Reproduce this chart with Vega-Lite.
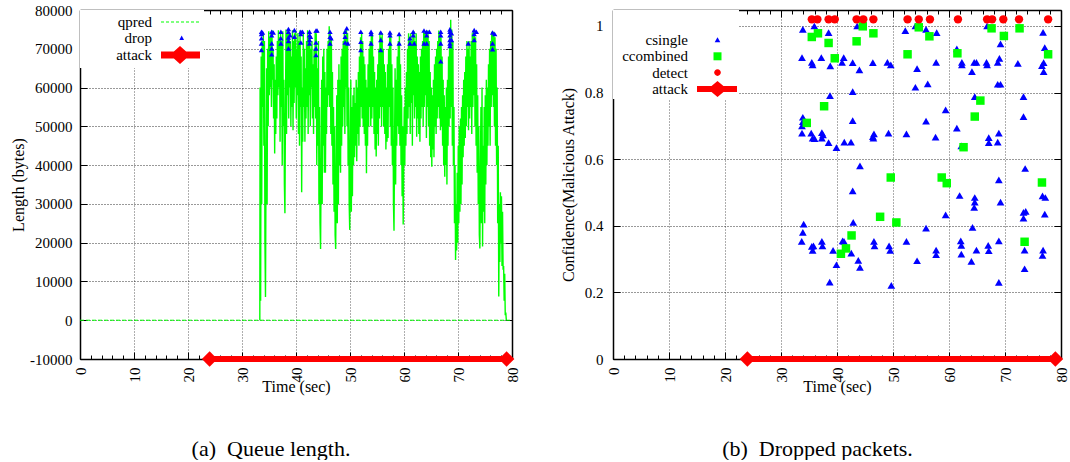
{
  "$schema": "https://vega.github.io/schema/vega-lite/v6.json",
  "background": "white",
  "padding": {"left": 10, "top": 3, "right": 0, "bottom": 0},
  "spacing": 40,
  "resolve": {"scale": {"color": "independent", "shape": "independent"}, "legend": {"color": "independent", "shape": "independent"}},
  "config": {
    "view": {"stroke": null},
    "font": "Liberation Serif",
    "axis": {
      "labelFont": "Liberation Serif", "labelFontSize": 15, "labelColor": "black",
      "titleFont": "Liberation Serif", "titleFontSize": 16, "titleFontWeight": "normal", "titleColor": "black",
      "gridColor": "#000000", "gridDash": [1, 2], "gridOpacity": 0.8, "gridWidth": 1,
      "tickColor": "black", "tickWidth": 1, "domainColor": "black", "domainWidth": 1.5, "zindex": 1
    },
    "legend": {"labelFont": "Liberation Serif", "labelFontSize": 15, "labelColor": "black", "titleFont": "Liberation Serif"},
    "title": {"font": "Liberation Serif", "fontWeight": "normal", "color": "black"}
  },
  "datasets": {
    "q": [
      {"t":0,"q":0},{"t":33.3,"q":0},{"t":33.35,"q":60000},{"t":33.45,"q":5000},{"t":33.55,"q":68000},{"t":33.65,"q":30000},{"t":33.75,"q":72000},{"t":33.85,"q":55000},{"t":33.95,"q":74000},{"t":34.05,"q":45000},{"t":34.15,"q":72000},{"t":34.25,"q":20000},{"t":34.35,"q":6000},{"t":34.45,"q":40000},{"t":34.55,"q":65000},{"t":34.65,"q":30000},{"t":34.75,"q":70000},{"t":34.85,"q":50000},{"t":34.95,"q":74500},
      {"t":35.05,"q":58000},{"t":35.15,"q":73000},{"t":35.25,"q":60000},{"t":35.35,"q":74000},{"t":35.45,"q":55000},{"t":35.55,"q":74800},{"t":35.65,"q":62000},{"t":35.75,"q":70000},{"t":35.85,"q":52000},{"t":35.95,"q":66000},
      {"t":36.05,"q":43000},{"t":36.15,"q":62000},{"t":36.25,"q":48000},{"t":36.35,"q":68000},{"t":36.45,"q":52000},{"t":36.55,"q":72000},{"t":36.65,"q":58000},{"t":36.75,"q":74800},{"t":36.85,"q":60000},{"t":36.95,"q":73000},
      {"t":37.05,"q":46000},{"t":37.15,"q":74000},{"t":37.25,"q":55000},{"t":37.35,"q":72000},{"t":37.45,"q":40000},{"t":37.55,"q":74500},{"t":37.65,"q":50000},{"t":37.75,"q":62000},{"t":37.85,"q":35000},{"t":37.95,"q":27600},
      {"t":38.05,"q":55000},{"t":38.15,"q":75000},{"t":38.25,"q":48000},{"t":38.35,"q":74000},{"t":38.45,"q":58000},{"t":38.55,"q":75000},{"t":38.65,"q":52000},{"t":38.75,"q":74000},{"t":38.85,"q":60000},{"t":38.95,"q":72000},
      {"t":39.05,"q":50000},{"t":39.15,"q":68000},{"t":39.25,"q":55000},{"t":39.35,"q":74800},{"t":39.45,"q":49000},{"t":39.55,"q":72000},{"t":39.65,"q":56000},{"t":39.75,"q":74000},{"t":39.85,"q":60000},{"t":39.95,"q":74800},
      {"t":40.05,"q":52000},{"t":40.15,"q":70000},{"t":40.25,"q":58000},{"t":40.35,"q":74000},{"t":40.45,"q":48000},{"t":40.55,"q":72000},{"t":40.65,"q":45000},{"t":40.75,"q":74800},{"t":40.85,"q":55000},{"t":40.95,"q":68000},
      {"t":41.05,"q":33000},{"t":41.15,"q":60000},{"t":41.25,"q":46000},{"t":41.35,"q":74000},{"t":41.45,"q":55000},{"t":41.55,"q":70000},{"t":41.65,"q":46000},{"t":41.75,"q":65000},{"t":41.85,"q":52000},{"t":41.95,"q":72000},
      {"t":42.05,"q":55000},{"t":42.15,"q":74800},{"t":42.25,"q":48000},{"t":42.35,"q":73000},{"t":42.45,"q":58000},{"t":42.55,"q":74000},{"t":42.65,"q":50000},{"t":42.75,"q":70000},{"t":42.85,"q":60000},{"t":42.95,"q":72000},
      {"t":43.05,"q":52000},{"t":43.15,"q":66000},{"t":43.25,"q":48000},{"t":43.35,"q":70000},{"t":43.45,"q":55000},{"t":43.55,"q":74500},{"t":43.65,"q":52000},{"t":43.75,"q":74000},{"t":43.85,"q":40000},{"t":43.95,"q":65000},
      {"t":44.05,"q":45000},{"t":44.15,"q":72000},{"t":44.25,"q":30000},{"t":44.35,"q":55000},{"t":44.45,"q":25000},{"t":44.55,"q":18400},{"t":44.65,"q":40000},{"t":44.75,"q":62000},{"t":44.85,"q":30000},{"t":44.95,"q":68000},
      {"t":45.05,"q":45000},{"t":45.15,"q":70000},{"t":45.25,"q":38000},{"t":45.35,"q":64000},{"t":45.45,"q":38000},{"t":45.55,"q":60000},{"t":45.65,"q":48000},{"t":45.75,"q":70000},{"t":45.85,"q":55000},{"t":45.95,"q":72000},
      {"t":46.05,"q":58000},{"t":46.15,"q":75800},{"t":46.25,"q":55000},{"t":46.35,"q":74000},{"t":46.45,"q":48000},{"t":46.55,"q":73000},{"t":46.65,"q":45000},{"t":46.75,"q":64000},{"t":46.85,"q":35000},{"t":46.95,"q":55000},
      {"t":47.05,"q":28000},{"t":47.15,"q":50000},{"t":47.25,"q":22000},{"t":47.35,"q":18400},{"t":47.45,"q":40000},{"t":47.55,"q":58000},{"t":47.65,"q":25000},{"t":47.75,"q":62000},{"t":47.85,"q":30000},{"t":47.95,"q":66000},
      {"t":48.05,"q":40000},{"t":48.15,"q":62000},{"t":48.25,"q":38000},{"t":48.35,"q":68000},{"t":48.45,"q":45000},{"t":48.55,"q":70000},{"t":48.65,"q":50000},{"t":48.75,"q":72000},{"t":48.85,"q":55000},{"t":48.95,"q":74500},
      {"t":49.05,"q":48000},{"t":49.15,"q":73000},{"t":49.25,"q":60000},{"t":49.35,"q":75000},{"t":49.45,"q":50000},{"t":49.55,"q":74000},{"t":49.65,"q":40000},{"t":49.75,"q":60000},{"t":49.85,"q":30000},{"t":49.95,"q":23300},
      {"t":50.05,"q":45000},{"t":50.15,"q":62000},{"t":50.25,"q":28000},{"t":50.35,"q":55000},{"t":50.45,"q":32000},{"t":50.55,"q":58000},{"t":50.65,"q":40000},{"t":50.75,"q":60000},{"t":50.85,"q":42000},{"t":50.95,"q":56000},
      {"t":51.05,"q":45000},{"t":51.15,"q":62000},{"t":51.25,"q":41000},{"t":51.35,"q":60000},{"t":51.45,"q":48000},{"t":51.55,"q":64000},{"t":51.65,"q":45000},{"t":51.75,"q":68000},{"t":51.85,"q":50000},{"t":51.95,"q":73000},
      {"t":52.05,"q":55000},{"t":52.15,"q":74400},{"t":52.25,"q":52000},{"t":52.35,"q":72000},{"t":52.45,"q":50000},{"t":52.55,"q":68000},{"t":52.65,"q":48000},{"t":52.75,"q":66000},{"t":52.85,"q":45000},{"t":52.95,"q":62000},
      {"t":53.05,"q":37900},{"t":53.15,"q":60000},{"t":53.25,"q":45000},{"t":53.35,"q":66000},{"t":53.45,"q":50000},{"t":53.55,"q":70000},{"t":53.65,"q":55000},{"t":53.75,"q":72000},{"t":53.85,"q":50000},{"t":53.95,"q":74400},
      {"t":54.05,"q":52000},{"t":54.15,"q":74000},{"t":54.25,"q":55000},{"t":54.35,"q":68000},{"t":54.45,"q":48000},{"t":54.55,"q":64000},{"t":54.65,"q":44000},{"t":54.75,"q":60000},{"t":54.85,"q":42200},{"t":54.95,"q":62000},
      {"t":55.05,"q":48000},{"t":55.15,"q":66000},{"t":55.25,"q":45000},{"t":55.35,"q":70000},{"t":55.45,"q":52000},{"t":55.55,"q":74400},{"t":55.65,"q":55000},{"t":55.75,"q":73000},{"t":55.85,"q":50000},{"t":55.95,"q":74000},
      {"t":56.05,"q":55000},{"t":56.15,"q":70000},{"t":56.25,"q":50000},{"t":56.35,"q":66000},{"t":56.45,"q":48000},{"t":56.55,"q":64000},{"t":56.65,"q":44000},{"t":56.75,"q":60000},{"t":56.85,"q":46000},{"t":56.95,"q":66000},
      {"t":57.05,"q":47000},{"t":57.15,"q":70000},{"t":57.25,"q":55000},{"t":57.35,"q":74400},{"t":57.45,"q":50000},{"t":57.55,"q":74000},{"t":57.65,"q":45000},{"t":57.75,"q":66000},{"t":57.85,"q":40000},{"t":57.95,"q":60000},
      {"t":58.05,"q":30000},{"t":58.15,"q":23100},{"t":58.25,"q":45000},{"t":58.35,"q":65000},{"t":58.45,"q":35000},{"t":58.55,"q":62000},{"t":58.65,"q":45000},{"t":58.75,"q":68000},{"t":58.85,"q":50000},{"t":58.95,"q":72000},
      {"t":59.05,"q":48000},{"t":59.15,"q":74000},{"t":59.25,"q":45000},{"t":59.35,"q":66000},{"t":59.45,"q":40000},{"t":59.55,"q":58000},{"t":59.65,"q":32000},{"t":59.75,"q":50000},{"t":59.85,"q":24700},{"t":59.95,"q":42000},
      {"t":60.05,"q":55000},{"t":60.15,"q":40000},{"t":60.25,"q":60000},{"t":60.35,"q":45000},{"t":60.45,"q":64000},{"t":60.55,"q":48000},{"t":60.65,"q":70000},{"t":60.75,"q":52000},{"t":60.85,"q":74000},{"t":60.95,"q":55000},
      {"t":61.05,"q":73000},{"t":61.15,"q":48000},{"t":61.25,"q":74000},{"t":61.35,"q":56000},{"t":61.45,"q":72000},{"t":61.55,"q":45000},{"t":61.65,"q":74000},{"t":61.75,"q":58000},{"t":61.85,"q":74500},{"t":61.95,"q":52000},
      {"t":62.05,"q":72000},{"t":62.15,"q":55000},{"t":62.25,"q":74000},{"t":62.35,"q":47300},{"t":62.45,"q":68000},{"t":62.55,"q":52000},{"t":62.65,"q":66000},{"t":62.75,"q":48000},{"t":62.85,"q":64000},{"t":62.95,"q":46000},
      {"t":63.05,"q":68000},{"t":63.15,"q":52000},{"t":63.25,"q":70000},{"t":63.35,"q":55000},{"t":63.45,"q":72000},{"t":63.55,"q":50000},{"t":63.65,"q":74700},{"t":63.75,"q":55000},{"t":63.85,"q":74000},{"t":63.95,"q":58000},
      {"t":64.05,"q":74500},{"t":64.15,"q":47000},{"t":64.25,"q":73000},{"t":64.35,"q":55000},{"t":64.45,"q":74700},{"t":64.55,"q":50000},{"t":64.65,"q":72000},{"t":64.75,"q":45000},{"t":64.85,"q":64000},{"t":64.95,"q":42000},
      {"t":65.05,"q":60000},{"t":65.15,"q":39600},{"t":65.25,"q":58000},{"t":65.35,"q":44000},{"t":65.45,"q":62000},{"t":65.55,"q":42000},{"t":65.65,"q":66000},{"t":65.75,"q":50000},{"t":65.85,"q":68000},{"t":65.95,"q":48000},
      {"t":66.05,"q":70000},{"t":66.15,"q":52000},{"t":66.25,"q":72000},{"t":66.35,"q":55000},{"t":66.45,"q":74700},{"t":66.55,"q":52000},{"t":66.65,"q":74000},{"t":66.75,"q":49000},{"t":66.85,"q":73000},{"t":66.95,"q":50000},
      {"t":67.05,"q":68000},{"t":67.15,"q":45000},{"t":67.25,"q":62000},{"t":67.35,"q":40000},{"t":67.45,"q":58000},{"t":67.55,"q":37000},{"t":67.65,"q":55000},{"t":67.75,"q":40000},{"t":67.85,"q":60000},{"t":67.95,"q":35000},
      {"t":68.05,"q":62000},{"t":68.15,"q":45000},{"t":68.25,"q":68000},{"t":68.35,"q":50000},{"t":68.45,"q":74000},{"t":68.55,"q":52000},{"t":68.65,"q":77500},{"t":68.75,"q":55000},{"t":68.85,"q":75000},{"t":68.95,"q":45000},
      {"t":69.05,"q":72000},{"t":69.15,"q":40000},{"t":69.25,"q":55000},{"t":69.35,"q":25000},{"t":69.45,"q":40000},{"t":69.55,"q":15500},{"t":69.65,"q":30000},{"t":69.75,"q":18000},{"t":69.85,"q":38000},{"t":69.95,"q":20000},
      {"t":70.05,"q":45000},{"t":70.15,"q":25000},{"t":70.25,"q":50000},{"t":70.35,"q":28000},{"t":70.45,"q":52000},{"t":70.55,"q":30000},{"t":70.65,"q":55000},{"t":70.75,"q":35000},{"t":70.85,"q":58000},{"t":70.95,"q":42000},
      {"t":71.05,"q":62000},{"t":71.15,"q":45000},{"t":71.25,"q":64000},{"t":71.35,"q":47000},{"t":71.45,"q":68000},{"t":71.55,"q":50000},{"t":71.65,"q":72000},{"t":71.75,"q":55000},{"t":71.85,"q":70000},{"t":71.95,"q":49000},
      {"t":72.05,"q":72000},{"t":72.15,"q":52000},{"t":72.25,"q":68000},{"t":72.35,"q":55000},{"t":72.45,"q":72000},{"t":72.55,"q":48000},{"t":72.65,"q":74000},{"t":72.75,"q":55000},{"t":72.85,"q":74800},{"t":72.95,"q":58000},
      {"t":73.05,"q":74000},{"t":73.15,"q":50000},{"t":73.25,"q":73000},{"t":73.35,"q":45000},{"t":73.45,"q":66000},{"t":73.55,"q":38000},{"t":73.65,"q":58000},{"t":73.75,"q":30000},{"t":73.85,"q":50000},{"t":73.95,"q":22000},
      {"t":74.05,"q":18500},{"t":74.15,"q":40000},{"t":74.25,"q":55000},{"t":74.35,"q":25000},{"t":74.45,"q":60000},{"t":74.55,"q":19000},{"t":74.65,"q":45000},{"t":74.75,"q":28000},{"t":74.85,"q":55000},{"t":74.95,"q":25000},
      {"t":75.05,"q":58000},{"t":75.15,"q":35000},{"t":75.25,"q":62000},{"t":75.35,"q":40000},{"t":75.45,"q":60000},{"t":75.55,"q":45000},{"t":75.65,"q":66000},{"t":75.75,"q":50000},{"t":75.85,"q":70000},{"t":75.95,"q":45000},
      {"t":76.05,"q":72000},{"t":76.15,"q":55000},{"t":76.25,"q":74400},{"t":76.35,"q":58000},{"t":76.45,"q":74000},{"t":76.55,"q":55000},{"t":76.65,"q":74400},{"t":76.75,"q":50000},{"t":76.85,"q":73000},{"t":76.95,"q":45000},
      {"t":77.05,"q":70000},{"t":77.15,"q":40000},{"t":77.25,"q":60000},{"t":77.35,"q":25000},{"t":77.45,"q":45000},{"t":77.55,"q":6100},{"t":77.65,"q":30000},{"t":77.75,"q":15000},{"t":77.85,"q":33000},{"t":77.95,"q":20000},
      {"t":78.05,"q":32000},{"t":78.15,"q":14000},{"t":78.25,"q":28000},{"t":78.35,"q":13000},{"t":78.45,"q":14000},{"t":78.55,"q":5000},{"t":78.65,"q":12000},{"t":78.75,"q":1300},{"t":78.85,"q":2000},{"t":78.95,"q":0},{"t":80,"q":0}
    ],
    "drop": [
      {"t":33.6,"q":74400},{"t":33.6,"q":73800},{"t":33.6,"q":72700},{"t":33.6,"q":71400},{"t":33.6,"q":69700},{"t":33.8,"q":74200},
      {"t":35.5,"q":74400},{"t":35.5,"q":73500},{"t":35.5,"q":71400},{"t":35.5,"q":70100},{"t":35.5,"q":68600},{"t":35.8,"q":74200},
      {"t":37.2,"q":74400},{"t":37.2,"q":72700},{"t":37.2,"q":71400},
      {"t":38.6,"q":75100},{"t":38.6,"q":74400},{"t":38.6,"q":72900},{"t":38.6,"q":72000},{"t":38.6,"q":70100},{"t":38.9,"q":73500},
      {"t":39.7,"q":74800},{"t":39.7,"q":73100},
      {"t":40.9,"q":74400},{"t":40.9,"q":73800},{"t":40.9,"q":71600},{"t":41.2,"q":74400},
      {"t":42.5,"q":74400},{"t":42.5,"q":73500},{"t":42.5,"q":72300},{"t":42.5,"q":71400},{"t":42.7,"q":73100},
      {"t":43.7,"q":74700},{"t":43.7,"q":71600},{"t":43.7,"q":70100},{"t":43.7,"q":68400},{"t":43.9,"q":74700},
      {"t":46.3,"q":74400},{"t":46.3,"q":73100},{"t":46.3,"q":71400},{"t":46.5,"q":72700},
      {"t":49.1,"q":74400},{"t":49.1,"q":73100},{"t":49.1,"q":71600},{"t":49.4,"q":75300},{"t":49.6,"q":71400},
      {"t":52.0,"q":74400},{"t":52.0,"q":71800},{"t":52.0,"q":69700},
      {"t":53.9,"q":74400},{"t":53.9,"q":73800},{"t":53.9,"q":71400},
      {"t":55.7,"q":74200},{"t":55.7,"q":72300},{"t":55.7,"q":69700},
      {"t":57.4,"q":74200},{"t":57.4,"q":73500},{"t":57.4,"q":71400},
      {"t":59.1,"q":73800},{"t":59.1,"q":71400},
      {"t":61.1,"q":72700},{"t":61.1,"q":71400},{"t":61.7,"q":74400},{"t":61.7,"q":73500},{"t":61.9,"q":71400},
      {"t":63.7,"q":74700},{"t":63.7,"q":71400},{"t":64.2,"q":74400},{"t":64.2,"q":73500},{"t":64.2,"q":71400},{"t":64.7,"q":74400},
      {"t":66.8,"q":74400},{"t":66.8,"q":73500},{"t":66.8,"q":71400},{"t":66.8,"q":66800},
      {"t":68.5,"q":75000},{"t":68.5,"q":74400},{"t":68.5,"q":73500},{"t":68.5,"q":72300},{"t":68.5,"q":71400},{"t":68.5,"q":70700},{"t":68.8,"q":74000},{"t":68.8,"q":72300},
      {"t":71.9,"q":71400},
      {"t":73.0,"q":74800},{"t":73.0,"q":73800},{"t":73.0,"q":72300},{"t":73.4,"q":74400},
      {"t":76.4,"q":74200},{"t":76.4,"q":71400},{"t":76.4,"q":69900},{"t":76.8,"q":73800}
    ],
    "atkA": [{"t":24,"q":-10000},{"t":79,"q":-10000}],
    "legA": [{"s":"qpred"},{"s":"drop"},{"s":"attack"}],
    "cs": [
      {"t":33.9,"c":0.99},{"t":35.95,"c":1.0},{"t":38.5,"c":0.98},{"t":43.6,"c":1.0},{"t":54.0,"c":1.0},{"t":52.2,"c":0.986},
      {"t":33.75,"c":0.905},{"t":35.5,"c":0.891},{"t":35.65,"c":0.883},{"t":37.2,"c":0.905},{"t":38.8,"c":0.88},{"t":41.2,"c":0.905},{"t":40.9,"c":0.891},{"t":42.8,"c":0.89},{"t":44.0,"c":0.868},{"t":46.4,"c":0.89},{"t":49.0,"c":0.891},{"t":49.6,"c":0.883},{"t":54.3,"c":0.872},{"t":54.0,"c":0.816},{"t":42.8,"c":0.803},{"t":38.75,"c":0.791},
      {"t":33.9,"c":0.726},{"t":33.9,"c":0.713},{"t":33.75,"c":0.7},{"t":42.8,"c":0.716},{"t":33.75,"c":0.678},{"t":35.4,"c":0.678},{"t":35.65,"c":0.663},{"t":36.0,"c":0.662},{"t":37.3,"c":0.68},{"t":37.3,"c":0.663},{"t":37.5,"c":0.673},{"t":38.5,"c":0.65},{"t":39.9,"c":0.635},{"t":41.3,"c":0.651},{"t":42.5,"c":0.651},{"t":46.6,"c":0.676},{"t":46.5,"c":0.663},{"t":46.4,"c":0.668},{"t":49.2,"c":0.678},{"t":52.4,"c":0.676},{"t":44.1,"c":0.58},
      {"t":42.8,"c":0.505},{"t":34.05,"c":0.405},{"t":33.9,"c":0.38},{"t":33.7,"c":0.353},{"t":35.5,"c":0.338},{"t":35.65,"c":0.326},{"t":35.8,"c":0.34},{"t":37.3,"c":0.353},{"t":37.4,"c":0.34},{"t":39.3,"c":0.326},{"t":41.0,"c":0.355},{"t":41.25,"c":0.353},{"t":42.55,"c":0.318},{"t":42.9,"c":0.41},{"t":39.9,"c":0.283},{"t":43.8,"c":0.296},{"t":44.1,"c":0.275},{"t":38.7,"c":0.231},{"t":46.6,"c":0.353},{"t":46.7,"c":0.34},{"t":49.3,"c":0.34},{"t":49.5,"c":0.326},{"t":49.7,"c":0.221},{"t":52.4,"c":0.353},{"t":54.3,"c":0.295},
      {"t":55.9,"c":0.99},{"t":57.8,"c":0.98},{"t":66.8,"c":1.0},{"t":57.7,"c":0.891},{"t":61.4,"c":0.931},{"t":62.3,"c":0.891},{"t":62.3,"c":0.883},{"t":64.1,"c":0.863},{"t":64.5,"c":0.891},{"t":64.9,"c":0.891},{"t":66.7,"c":0.891},{"t":66.8,"c":0.883},{"t":68.7,"c":0.891},{"t":69.0,"c":0.903},{"t":69.2,"c":0.946},{"t":68.7,"c":0.825},{"t":69.2,"c":0.825},{"t":72.3,"c":0.888},{"t":76.8,"c":0.981},{"t":77.1,"c":0.935},{"t":76.9,"c":0.89},{"t":76.6,"c":0.881},{"t":76.9,"c":0.863},
      {"t":56.2,"c":0.826},{"t":59.4,"c":0.748},{"t":55.9,"c":0.714},{"t":57.6,"c":0.666},{"t":61.4,"c":0.693},{"t":64.6,"c":0.788},{"t":73.3,"c":0.788},{"t":73.3,"c":0.728},{"t":67.1,"c":0.665},{"t":67.1,"c":0.65},{"t":68.9,"c":0.678},{"t":68.7,"c":0.651},{"t":62.2,"c":0.64},{"t":73.6,"c":0.572},{"t":68.9,"c":0.538},
      {"t":61.9,"c":0.491},{"t":64.6,"c":0.485},{"t":64.6,"c":0.471},{"t":64.5,"c":0.455},{"t":69.2,"c":0.471},{"t":59.4,"c":0.433},{"t":76.7,"c":0.49},{"t":77.2,"c":0.485},{"t":77.1,"c":0.435},{"t":73.3,"c":0.44},{"t":73.7,"c":0.443},{"t":73.3,"c":0.423},{"t":55.9,"c":0.393},{"t":64.2,"c":0.395},{"t":57.7,"c":0.327},{"t":57.7,"c":0.313},{"t":62.1,"c":0.355},{"t":62.2,"c":0.341},{"t":62.2,"c":0.315},{"t":64.9,"c":0.327},{"t":64.0,"c":0.293},{"t":67.0,"c":0.341},{"t":67.1,"c":0.325},{"t":68.9,"c":0.355},{"t":68.9,"c":0.23},{"t":73.5,"c":0.327},{"t":73.5,"c":0.271},{"t":76.8,"c":0.327},{"t":76.7,"c":0.311}
    ],
    "cc": [
      {"t":34.6,"c":0.709},{"t":35.5,"c":0.967},{"t":36.6,"c":0.978},{"t":37.7,"c":0.759},{"t":38.5,"c":0.949},{"t":39.6,"c":0.903},{"t":40.7,"c":0.316},{"t":41.6,"c":0.332},{"t":42.6,"c":0.371},{"t":43.5,"c":0.954},{"t":44.6,"c":0.999},{"t":46.5,"c":0.978},{"t":47.7,"c":0.427},{"t":49.6,"c":0.545},{"t":50.6,"c":0.41},
      {"t":52.6,"c":0.915},{"t":54.6,"c":0.996},{"t":56.5,"c":0.969},{"t":58.7,"c":0.545},{"t":59.6,"c":0.528},{"t":61.5,"c":0.918},{"t":62.6,"c":0.636},{"t":64.6,"c":0.728},{"t":65.6,"c":0.776},{"t":67.6,"c":0.993},{"t":69.8,"c":0.97},{"t":72.6,"c":0.993},{"t":73.5,"c":0.352},{"t":76.6,"c":0.53},{"t":77.7,"c":0.915}
    ],
    "det": [
      {"t":35.5,"c":1.02},{"t":36.5,"c":1.02},{"t":38.5,"c":1.02},{"t":39.6,"c":1.02},{"t":43.5,"c":1.02},{"t":44.7,"c":1.02},{"t":46.5,"c":1.02},{"t":52.6,"c":1.02},{"t":54.6,"c":1.02},{"t":56.6,"c":1.02},{"t":61.6,"c":1.02},{"t":66.8,"c":1.02},{"t":67.7,"c":1.02},{"t":69.7,"c":1.02},{"t":72.5,"c":1.02},{"t":77.7,"c":1.02}
    ],
    "atkB": [{"t":24,"c":0},{"t":79,"c":0}],
    "legB": [{"s":"csingle"},{"s":"ccombined"},{"s":"detect"},{"s":"attack"}]
  },
  "hconcat": [
    {
      "width": 432, "height": 349,
      "title": {"text": "(a)\u00a0\u00a0Queue length.", "orient": "bottom", "anchor": "middle", "frame": "bounds", "fontSize": 22, "offset": 45, "dx": 6},
      "resolve": {"axis": {"x": "independent", "y": "independent"}},
      "layer": [
        {
          "data": {"name": "q"},
          "transform": [{"filter": "datum.t <= 33.3 || datum.t >= 78.95"}],
          "mark": {"type": "line", "color": "#00ff00", "strokeWidth": 1, "strokeDash": [4, 2]},
          "encoding": {
            "x": {"field": "t", "type": "quantitative", "scale": {"domain": [0, 80], "nice": false, "zero": false},
              "axis": {"orient": "bottom", "values": [0,2,4,6,8,10,12,14,16,18,20,22,24,26,28,30,32,34,36,38,40,42,44,46,48,50,52,54,56,58,60,62,64,66,68,70,72,74,76,78,80],
                "labelExpr": "datum.value % 10 === 0 ? '' + datum.value : ''", "labelAngle": 270, "labelOverlap": false, "labelFlush": false, "labelPadding": 15,
                "tickSize": {"condition": {"test": "datum.value % 10 === 0", "value": -7}, "value": -4},
                "gridOpacity": {"condition": {"test": "datum.value % 10 === 0", "value": 0.8}, "value": 0},
                "title": "Time (sec)", "titleY": 32, "titleBaseline": "alphabetic"}},
            "y": {"field": "q", "type": "quantitative", "scale": {"domain": [-10000, 80000], "nice": false, "zero": false},
              "axis": {"orient": "left", "values": [-10000,0,10000,20000,30000,40000,50000,60000,70000,80000], "labelExpr": "'' + datum.value",
                "tickSize": -7, "labelPadding": 15, "title": "Length (bytes)", "titleX": -62, "titleBaseline": "middle"}}
          }
        },
        {
          "data": {"name": "q"},
          "transform": [{"filter": "datum.t >= 33.3 && datum.t <= 78.95"}],
          "mark": {"type": "line", "color": "#00ff00", "strokeWidth": 1.4},
          "encoding": {
            "x": {"field": "t", "type": "quantitative", "scale": {"domain": [0, 80], "nice": false, "zero": false}, "axis": null},
            "y": {"field": "q", "type": "quantitative", "scale": {"domain": [-10000, 80000], "nice": false, "zero": false}, "axis": null}
          }
        },
        {
          "data": {"name": "atkA"},
          "mark": {"type": "line", "color": "#ff0000", "strokeWidth": 6},
          "encoding": {
            "x": {"field": "t", "type": "quantitative", "scale": {"domain": [0, 80], "nice": false, "zero": false}, "axis": null},
            "y": {"field": "q", "type": "quantitative", "scale": {"domain": [-10000, 80000], "nice": false, "zero": false}, "axis": null}
          }
        },
        {
          "data": {"name": "atkA"},
          "mark": {"type": "point", "shape": "diamond", "filled": true, "color": "#ff0000", "size": 240, "opacity": 1},
          "encoding": {
            "x": {"field": "t", "type": "quantitative", "scale": {"domain": [0, 80], "nice": false, "zero": false}, "axis": null},
            "y": {"field": "q", "type": "quantitative", "scale": {"domain": [-10000, 80000], "nice": false, "zero": false}, "axis": null}
          }
        },
        {
          "data": {"name": "drop"},
          "mark": {"type": "point", "shape": "triangle-up", "filled": true, "color": "#0000ff", "size": 28, "opacity": 1},
          "encoding": {
            "x": {"field": "t", "type": "quantitative", "scale": {"domain": [0, 80], "nice": false, "zero": false},
              "axis": {"orient": "top", "values": [0,2,4,6,8,10,12,14,16,18,20,22,24,26,28,30,32,34,36,38,40,42,44,46,48,50,52,54,56,58,60,62,64,66,68,70,72,74,76,78,80],
                "labels": false, "grid": false, "title": null,
                "tickSize": {"condition": {"test": "datum.value % 10 === 0", "value": -7}, "value": -4}}},
            "y": {"field": "q", "type": "quantitative", "scale": {"domain": [-10000, 80000], "nice": false, "zero": false},
              "axis": {"orient": "right", "values": [-10000,0,10000,20000,30000,40000,50000,60000,70000,80000], "labels": false, "grid": false, "title": null, "tickSize": -7}}
          }
        },
        {
          "data": {"name": "legA"},
          "transform": [{"filter": "false"}],
          "mark": {"type": "point", "filled": true},
          "encoding": {
            "color": {"field": "s", "type": "nominal",
              "scale": {"domain": ["qpred", "drop", "attack"], "range": ["#00ff00", "#0000ff", "#ff0000"]},
              "legend": {"orient": "top-left", "offset": 0, "padding": 4, "fillColor": "white", "title": null, "direction": "vertical",
                "symbolSize": 256, "symbolStrokeWidth": 0, "symbolOpacity": 1, "rowPadding": 0,
                "labelAlign": "right", "labelOffset": 52, "labelFontSize": 15, "zindex": 2}},
            "shape": {"field": "s", "type": "nominal",
              "scale": {"domain": ["qpred", "drop", "attack"], "range": [
                "M8.625,-0.075H9V0.075H8.625Z M9.25,-0.075H9.625V0.075H9.25Z M9.875,-0.075H10.25V0.075H9.875Z M10.5,-0.075H10.875V0.075H10.5Z M11.125,-0.075H11.5V0.075H11.125Z M11.75,-0.075H12.125V0.075H11.75Z M12.375,-0.075H12.75V0.075H12.375Z M13,-0.075H13.375V0.075H13Z",
                "M11.21,-0.3L11.5,0.24L10.92,0.24Z",
                "M8.625,-0.4375H10.236L11,-1.125L11.764,-0.4375H13.5V0.4375H11.764L11,1.125L10.236,0.4375H8.625Z"]},
              "legend": {"orient": "top-left", "offset": 0, "padding": 4, "fillColor": "white", "title": null, "direction": "vertical",
                "symbolSize": 256, "symbolStrokeWidth": 0, "symbolOpacity": 1, "rowPadding": 0,
                "labelAlign": "right", "labelOffset": 52, "labelFontSize": 15, "zindex": 2}}
          }
        }
      ]
    },
    {
      "width": 448, "height": 349,
      "title": {"text": "(b)\u00a0\u00a0Dropped packets.", "orient": "bottom", "anchor": "middle", "frame": "bounds", "fontSize": 22, "offset": 45, "dx": 3},
      "resolve": {"axis": {"x": "independent", "y": "independent"}},
      "layer": [
        {
          "data": {"name": "atkB"},
          "mark": {"type": "line", "color": "#ff0000", "strokeWidth": 6},
          "encoding": {
            "x": {"field": "t", "type": "quantitative", "scale": {"domain": [0, 80], "nice": false, "zero": false},
              "axis": {"orient": "bottom", "values": [0,2,4,6,8,10,12,14,16,18,20,22,24,26,28,30,32,34,36,38,40,42,44,46,48,50,52,54,56,58,60,62,64,66,68,70,72,74,76,78,80],
                "labelExpr": "datum.value % 10 === 0 ? '' + datum.value : ''", "labelAngle": 270, "labelOverlap": false, "labelFlush": false, "labelPadding": 15,
                "tickSize": {"condition": {"test": "datum.value % 10 === 0", "value": -7}, "value": -4},
                "gridOpacity": {"condition": {"test": "datum.value % 10 === 0", "value": 0.8}, "value": 0},
                "title": "Time (sec)", "titleY": 32, "titleBaseline": "alphabetic"}},
            "y": {"field": "c", "type": "quantitative", "scale": {"domain": [0, 1.048], "nice": false, "zero": false},
              "axis": {"orient": "left", "values": [0, 0.2, 0.4, 0.6, 0.8, 1], "labelExpr": "'' + datum.value",
                "tickSize": -7, "labelPadding": 17, "title": "Confidence(Malicious Attack)", "titleX": -45, "titleBaseline": "middle"}}
          }
        },
        {
          "data": {"name": "atkB"},
          "mark": {"type": "point", "shape": "diamond", "filled": true, "color": "#ff0000", "size": 240, "opacity": 1},
          "encoding": {
            "x": {"field": "t", "type": "quantitative", "scale": {"domain": [0, 80], "nice": false, "zero": false}, "axis": null},
            "y": {"field": "c", "type": "quantitative", "scale": {"domain": [0, 1.048], "nice": false, "zero": false}, "axis": null}
          }
        },
        {
          "data": {"name": "cs"},
          "mark": {"type": "point", "shape": "triangle-up", "filled": true, "color": "#0000ff", "size": 60, "opacity": 1},
          "encoding": {
            "x": {"field": "t", "type": "quantitative", "scale": {"domain": [0, 80], "nice": false, "zero": false},
              "axis": {"orient": "top", "values": [0,2,4,6,8,10,12,14,16,18,20,22,24,26,28,30,32,34,36,38,40,42,44,46,48,50,52,54,56,58,60,62,64,66,68,70,72,74,76,78,80],
                "labels": false, "grid": false, "title": null,
                "tickSize": {"condition": {"test": "datum.value % 10 === 0", "value": -7}, "value": -4}}},
            "y": {"field": "c", "type": "quantitative", "scale": {"domain": [0, 1.048], "nice": false, "zero": false},
              "axis": {"orient": "right", "values": [0, 0.2, 0.4, 0.6, 0.8, 1], "labels": false, "grid": false, "title": null, "tickSize": -7}}
          }
        },
        {
          "data": {"name": "cc"},
          "mark": {"type": "point", "shape": "square", "filled": true, "color": "#00ff00", "size": 72, "opacity": 1},
          "encoding": {
            "x": {"field": "t", "type": "quantitative", "scale": {"domain": [0, 80], "nice": false, "zero": false}, "axis": null},
            "y": {"field": "c", "type": "quantitative", "scale": {"domain": [0, 1.048], "nice": false, "zero": false}, "axis": null}
          }
        },
        {
          "data": {"name": "det"},
          "mark": {"type": "point", "shape": "circle", "filled": true, "color": "#ff0000", "size": 70, "opacity": 1},
          "encoding": {
            "x": {"field": "t", "type": "quantitative", "scale": {"domain": [0, 80], "nice": false, "zero": false}, "axis": null},
            "y": {"field": "c", "type": "quantitative", "scale": {"domain": [0, 1.048], "nice": false, "zero": false}, "axis": null}
          }
        },
        {
          "data": {"name": "legB"},
          "transform": [{"filter": "false"}],
          "mark": {"type": "point", "filled": true},
          "encoding": {
            "color": {"field": "s", "type": "nominal",
              "scale": {"domain": ["csingle", "ccombined", "detect", "attack"], "range": ["#0000ff", "#00ff00", "#ff0000", "#ff0000"]},
              "legend": {"orient": "top-left", "offset": 0, "padding": 2, "fillColor": "white", "title": " ", "titleFontSize": 16, "titlePadding": 4, "direction": "vertical",
                "symbolSize": 256, "symbolStrokeWidth": 0, "symbolOpacity": 1, "rowPadding": 0.3,
                "labelAlign": "right", "labelOffset": 57, "labelFontSize": 15, "zindex": 2}},
            "shape": {"field": "s", "type": "nominal",
              "scale": {"domain": ["csingle", "ccombined", "detect", "attack"], "range": [
                "M11.8125,-0.35L12.1625,0.275L11.4625,0.275Z",
                "M11.3125,-0.5H12.3125V0.5H11.3125Z",
                "M11.4,0A0.4125,0.4125,0,1,0,12.225,0A0.4125,0.4125,0,1,0,11.4,0Z",
                "M9.25,-0.375H11.07L11.8125,-1L12.555,-0.375H14.25V0.375H12.555L11.8125,1L11.07,0.375H9.25Z"]},
              "legend": {"orient": "top-left", "offset": 0, "padding": 2, "fillColor": "white", "title": " ", "titleFontSize": 16, "titlePadding": 4, "direction": "vertical",
                "symbolSize": 256, "symbolStrokeWidth": 0, "symbolOpacity": 1, "rowPadding": 0.3,
                "labelAlign": "right", "labelOffset": 57, "labelFontSize": 15, "zindex": 2}}
          }
        }
      ]
    }
  ]
}
